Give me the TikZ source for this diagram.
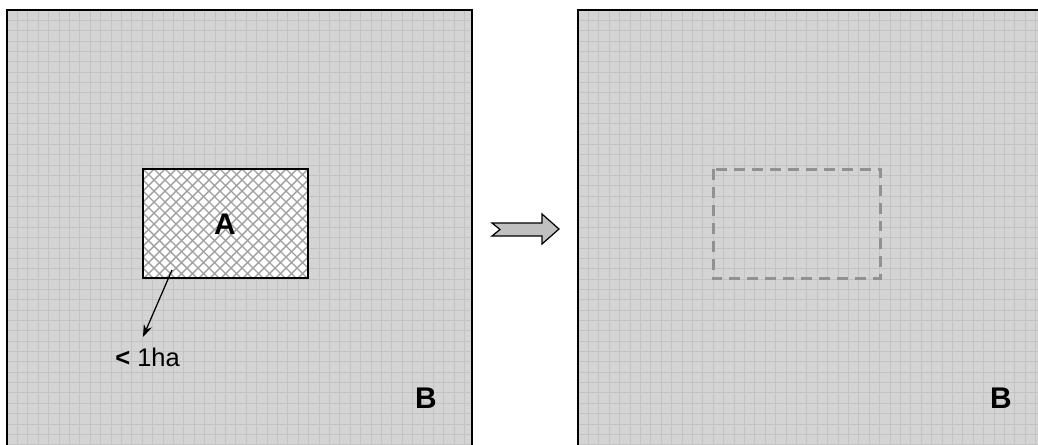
\documentclass[tikz,border=0pt]{standalone}
\usepackage{fontspec}
\setmainfont{Liberation Sans}
\usepackage{tikz}
\definecolor{paper}{RGB}{212,212,212}
\definecolor{gridline}{RGB}{195,195,195}
\definecolor{hatch}{RGB}{160,160,160}
\definecolor{ghost}{RGB}{145,145,145}
\definecolor{arrowfill}{RGB}{192,192,192}
\usetikzlibrary{arrows.meta}
\tikzset{
    panel/.style = {fill=paper, draw=black, line width=1.2pt},
    gridl/.style = {draw=gridline, line width=0.55pt},
    hatchl/.style = {draw=hatch, line width=0.8pt},
    bigletter/.style = {font=\fontsize{17}{20}\selectfont\bfseries, inner sep=0pt},
}

\begin{document}
\begin{tikzpicture}[x=0.02cm, y=-0.02cm, line cap=butt, line join=miter]
\useasboundingbox (0,0) rectangle (1038,444);

% left panel
\fill[paper] (7,10) rectangle (472,450);
\begin{scope}
\clip (7,10) rectangle (472,450);
\foreach \i in {0,...,45} \draw[gridl] (7+\i*10.4,10) -- ++(0,440);
\foreach \i in {0,...,43} \draw[gridl] (7,10+\i*10.35) -- ++(465,0);
\end{scope}
\draw[line width=1.2pt] (7,450) -- (7,10) -- (472,10) -- (472,450);

% right panel
\fill[paper] (578,10) rectangle (1045,450);
\begin{scope}
\clip (578,10) rectangle (1045,450);
\foreach \i in {0,...,46} \draw[gridl] (578+\i*10.4,10) -- ++(0,440);
\foreach \i in {0,...,43} \draw[gridl] (578,10+\i*10.35) -- ++(467,0);
\end{scope}
\draw[line width=1.2pt] (578,450) -- (578,10) -- (1045,10);

% area A
\fill[white] (143,169) rectangle (308,278);
\begin{scope}
\clip (143,169) rectangle (308,278);
\foreach \i in {-11,...,26} {
    \draw[hatchl] (143+\i*11,169) -- ++(115,115);
    \draw[hatchl] (143+\i*11,169) -- ++(-115,115);
}
\end{scope}
\draw[line width=1.2pt] (143,169) rectangle (308,278);
\node[bigletter] (labelA) at (225,224) {A};

% size label
\coordinate (inA) at (172,270);
\node[anchor=base west, inner sep=0pt, font=\fontsize{14.5}{17}\selectfont] (labelSize) at (115,366) {\textbf{<} 1ha};
\coordinate (tip) at (143,337);
\draw[line width=0.7pt, -{Stealth[length=7pt, width=5pt]}] (inA) -- (tip);

% former area
\draw[ghost, line width=1.7pt, dash pattern=on 6.2pt off 4pt] (713,169) rectangle (880,278);

% block arrow
\draw[fill=arrowfill, line width=0.7pt] (492,223) -- (542,223) -- (542,214) -- (559,229)
    -- (542,244) -- (542,236) -- (492,236) -- (500,229.5) -- cycle;

\node[bigletter] (labelB1) at (426,398) {B};
\node[bigletter] (labelB2) at (1001,398) {B};
\end{tikzpicture}
\end{document}
